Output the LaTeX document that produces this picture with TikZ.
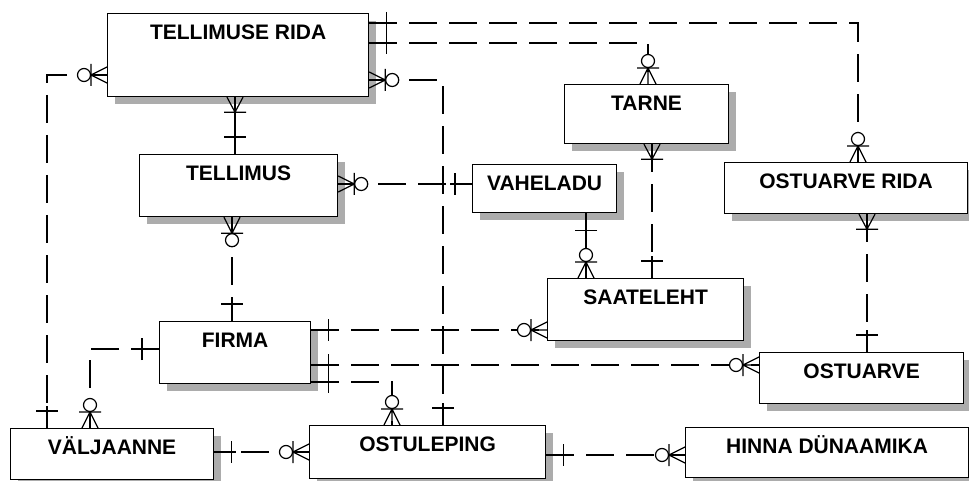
\documentclass[tikz,border=0pt]{standalone}
\usepackage{fontspec}
\setmainfont{Liberation Sans}
\usetikzlibrary{shadows}

\begin{document}
\begin{tikzpicture}[x=1pt, y=-1pt,
  ent/.style 2 args={rectangle, draw, line width=1.2pt, fill=white,
              inner xsep=0pt, inner ysep=0pt, anchor=north west,
              minimum width=#1pt, text height=26pt, text depth=#2pt,
              font=\fontsize{21}{24}\selectfont\bfseries,
              drop shadow={shadow xshift=7pt, shadow yshift=-7pt, fill=gray!65, opacity=1}},
  rel/.style={line width=1.2pt, dash pattern=on 28pt off 12pt},
  idrel/.style={line width=1.2pt},
  one/.pic={\draw[line width=1.2pt, solid] (0,0) -- (22,0) (17,-11) -- (17,11);},
  zm/.pic={\draw[line width=1.2pt, solid] (0,-8) -- (16,0) -- (0,8) (0,0) -- (30,0) (16,-11) -- (16,11);
           \draw[line width=1.2pt, solid, fill=white] (23,0) circle (6.5);},
  om/.pic={\draw[line width=1.2pt, solid] (0,-8) -- (15,0) -- (0,8) (0,0) -- (22,0) (15,-11) -- (15,11);},
]
  \useasboundingbox (0,0) rectangle (969,481);

  \node[ent={261}{57}] (trida) at (107,13) {TELLIMUSE RIDA};
  \node[ent={164}{33}] (tarne) at (564,84) {TARNE};
  \node[ent={243}{25}] (orida) at (724,162) {OSTUARVE RIDA};
  \node[ent={198}{36}] (tellimus) at (139,154) {TELLIMUS};
  \node[ent={144}{22}] (vaheladu) at (472,164) {VAHELADU};
  \node[ent={196}{36}] (saateleht) at (547,278) {SAATELEHT};
  \node[ent={151}{36}] (firma) at (159,321) {FIRMA};
  \node[ent={204}{25}] (ostuarve) at (759,352) {OSTUARVE};
  \node[ent={203}{25}] (valjaanne) at (10,428) {VÄLJAANNE};
  \node[ent={236}{27}] (ostuleping) at (309,425) {OSTULEPING};
  \node[ent={283}{24}] (hinna) at (685,427) {HINNA DÜNAAMIKA};

  % tellimuse rida
  \draw[rel] ([yshift=-10pt]trida.north east) coordinate (a1) -| ([xshift=134pt]orida.north west) coordinate (b1);
  \draw[rel] ([yshift=-30pt]trida.north east) coordinate (a2) -| ([xshift=84pt]tarne.north west) coordinate (b2);
  \draw[rel] ([yshift=-62pt]trida.north west) coordinate (a3) -| ([xshift=37pt]valjaanne.north west) coordinate (b3);
  \draw[rel] ([yshift=-67pt]trida.north east) coordinate (a4) -| ([xshift=134pt]ostuleping.north west) coordinate (b4);
  \draw[idrel] ([xshift=128pt]trida.south west) coordinate (a5) -- (a5 |- tellimus.north) coordinate (b5);
  \pic at (a1) {one};
  \pic[rotate=90] at (b1) {zm};
  \pic at (a2) {one};
  \pic[rotate=90] at (b2) {zm};
  \pic[rotate=180] at (a3) {zm};
  \pic[rotate=90] at (b3) {one};
  \pic at (a4) {zm};
  \pic[rotate=90] at (b4) {one};
  \pic[rotate=-90] at (a5) {om};
  \pic[rotate=90] at (b5) {one};

  % tellimus, vaheladu, tarne, ostuarve rida
  \draw[rel] ([yshift=-30pt]tellimus.north east) coordinate (a6) -- (a6 -| vaheladu.west) coordinate (b6);
  \draw[rel] ([xshift=93pt]tellimus.south west) coordinate (a7) -- (a7 |- firma.north) coordinate (b7);
  \draw[idrel] ([xshift=114pt]vaheladu.south west) coordinate (a8) -- (a8 |- saateleht.north) coordinate (b8);
  \draw[rel] ([xshift=88pt]tarne.south west) coordinate (a9) -- (a9 |- saateleht.north) coordinate (b9);
  \draw[rel] ([xshift=143pt]orida.south west) coordinate (a10) -- (a10 |- ostuarve.north) coordinate (b10);
  \pic at (a6) {zm};
  \pic[rotate=180] at (b6) {one};
  \pic[rotate=-90] at (a7) {zm};
  \pic[rotate=90] at (b7) {one};
  \pic[rotate=-90] at (a8) {one};
  \pic[rotate=90] at (b8) {zm};
  \pic[rotate=-90] at (a9) {om};
  \pic[rotate=90] at (b9) {one};
  \pic[rotate=-90] at (a10) {om};
  \pic[rotate=90] at (b10) {one};

  % firma
  \draw[rel] ([yshift=-9pt]firma.north east) coordinate (a11) -- (a11 -| saateleht.west) coordinate (b11);
  \draw[rel] ([yshift=-44pt]firma.north east) coordinate (a12) -- (a12 -| ostuarve.west) coordinate (b12);
  \draw[rel] ([yshift=-61pt]firma.north east) coordinate (a13) -| ([xshift=83pt]ostuleping.north west) coordinate (b13);
  \draw[rel] ([yshift=-28pt]firma.north west) coordinate (a14) -| ([xshift=80pt]valjaanne.north west) coordinate (b14);
  \pic at (a11) {one};
  \pic[rotate=180] at (b11) {zm};
  \pic at (a12) {one};
  \pic[rotate=180] at (b12) {zm};
  \pic at (a13) {one};
  \pic[rotate=90] at (b13) {zm};
  \pic[rotate=180] at (a14) {one};
  \pic[rotate=90] at (b14) {zm};

  % ostuleping
  \draw[rel] ([yshift=-27pt]ostuleping.north west) coordinate (a15) -- (a15 -| valjaanne.east) coordinate (b15);
  \draw[rel] ([yshift=-30pt]ostuleping.north east) coordinate (a16) -- (a16 -| hinna.west) coordinate (b16);
  \pic[rotate=180] at (a15) {zm};
  \pic at (b15) {one};
  \pic at (a16) {one};
  \pic[rotate=180] at (b16) {zm};
\end{tikzpicture}
\end{document}
